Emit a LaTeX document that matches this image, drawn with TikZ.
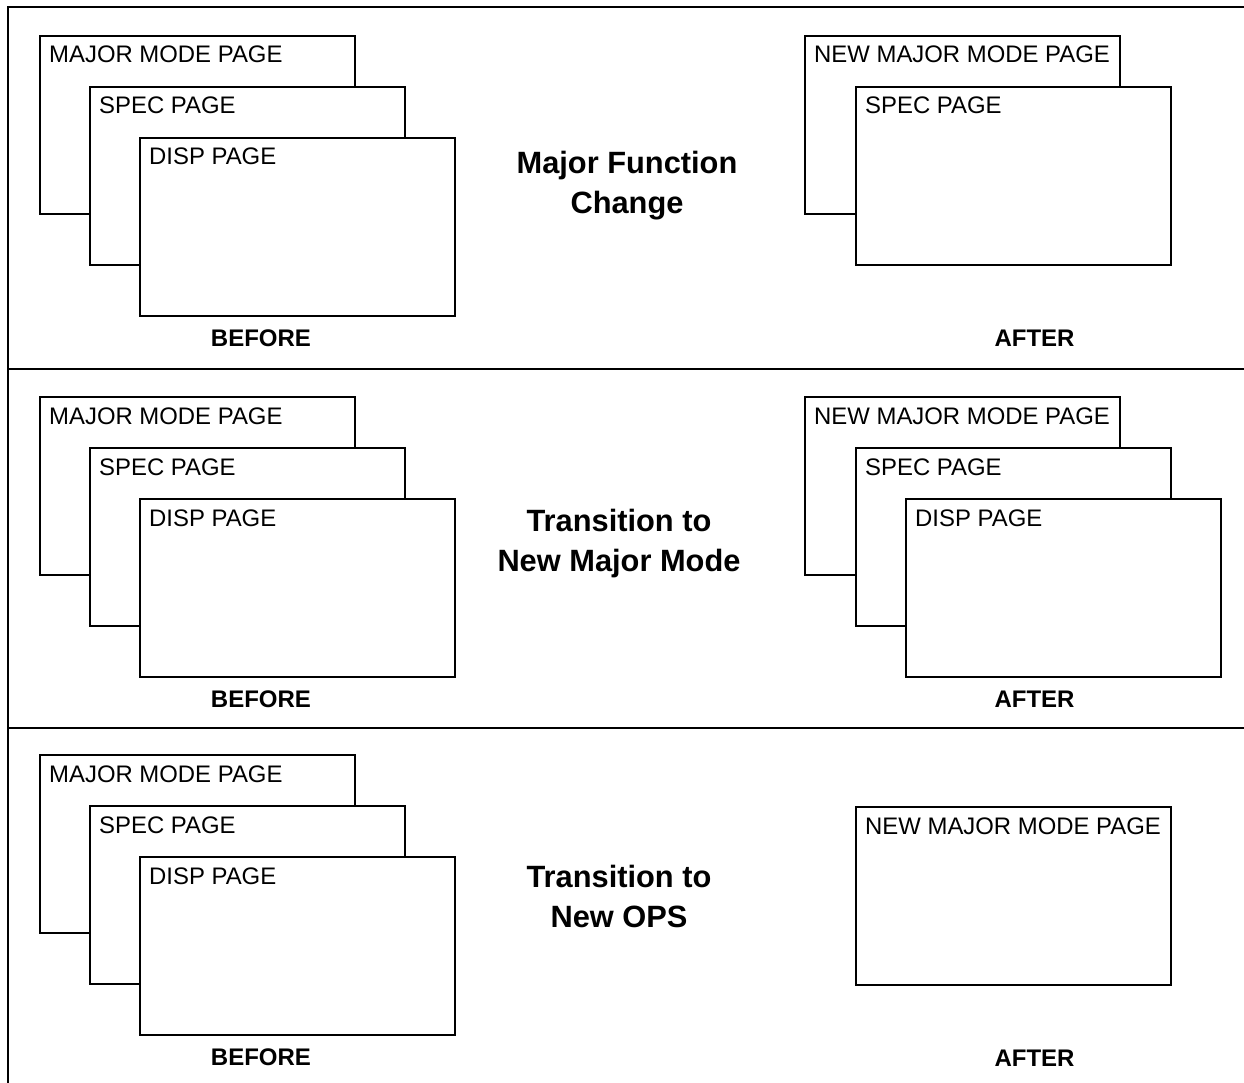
\documentclass[tikz,border=0pt]{standalone}
\usepackage{fontspec}
\setmainfont{Liberation Sans}
\usetikzlibrary{calc}
\tikzset{
	pagebox/.style={draw, line width=1.8pt, fill=white, minimum width=315pt, minimum height=178pt, inner sep=0pt, anchor=north west},
	pagetext/.style={anchor=base west, inner sep=0pt, font=\fontsize{23.9}{27}\selectfont},
	headtext/.style={anchor=base, inner sep=0pt, font=\fontsize{30.8}{35}\selectfont\bfseries},
	sidetext/.style={anchor=base, inner sep=0pt, font=\fontsize{24}{27}\selectfont\bfseries},
	frameline/.style={line width=2pt},
	rowline/.style={line width=1.6pt}
}
\def\pagecard(#1)(#2,#3)#4{\node[pagebox] (#1) at (#2,#3) {}; \node[pagetext] (#1txt) at ($(#1.north west)+(10,28)$) {#4};}

\begin{document}
\begin{tikzpicture}[x=1pt, y=-1pt]
		%%%%% START %%%%%
		\useasboundingbox (0,0) rectangle (1244,1083);
		
		\draw[frameline] (7.5,1090) -- (7.5,7.5) -- (1250,7.5);
		\draw[rowline] (7.5,369) -- (1250,369);
		\draw[rowline] (7.5,728) -- (1250,728);
		
		% row 1
		\pagecard(amajor)(39,35){MAJOR MODE PAGE}
		\pagecard(aspec)(89,86){SPEC PAGE}
		\pagecard(adisp)(139,137){DISP PAGE}
		\node[headtext] (ahead) at (627,174) {Major Function};
		\node[headtext] (aheadb) at (627,214) {Change};
		\pagecard(anew)(804,35){NEW MAJOR MODE PAGE}
		\pagecard(anspec)(855,86){SPEC PAGE}
		\node[sidetext] (abefore) at (261,346) {BEFORE};
		\node[sidetext] (aafter) at (1034.5,346) {AFTER};
		
		% row 2
		\pagecard(bmajor)(39,396){MAJOR MODE PAGE}
		\pagecard(bspec)(89,447){SPEC PAGE}
		\pagecard(bdisp)(139,498){DISP PAGE}
		\node[headtext] (bhead) at (619,531) {Transition to};
		\node[headtext] (bheadb) at (619,571) {New Major Mode};
		\pagecard(bnew)(804,396){NEW MAJOR MODE PAGE}
		\pagecard(bnspec)(855,447){SPEC PAGE}
		\pagecard(bndisp)(905,498){DISP PAGE}
		\node[sidetext] (bbefore) at (261,707) {BEFORE};
		\node[sidetext] (bafter) at (1034.5,707) {AFTER};
		
		% row 3
		\pagecard(cmajor)(39,754){MAJOR MODE PAGE}
		\pagecard(cspec)(89,805){SPEC PAGE}
		\pagecard(cdisp)(139,856){DISP PAGE}
		\node[headtext] (chead) at (619,887) {Transition to};
		\node[headtext] (cheadb) at (619,927) {New OPS};
		\pagecard(cnew)(855,806){NEW MAJOR MODE PAGE}
		\node[sidetext] (cbefore) at (261,1065) {BEFORE};
		\node[sidetext] (cafter) at (1034.5,1066) {AFTER};
		
		%%%%% END %%%%%
\end{tikzpicture}
\end{document}
